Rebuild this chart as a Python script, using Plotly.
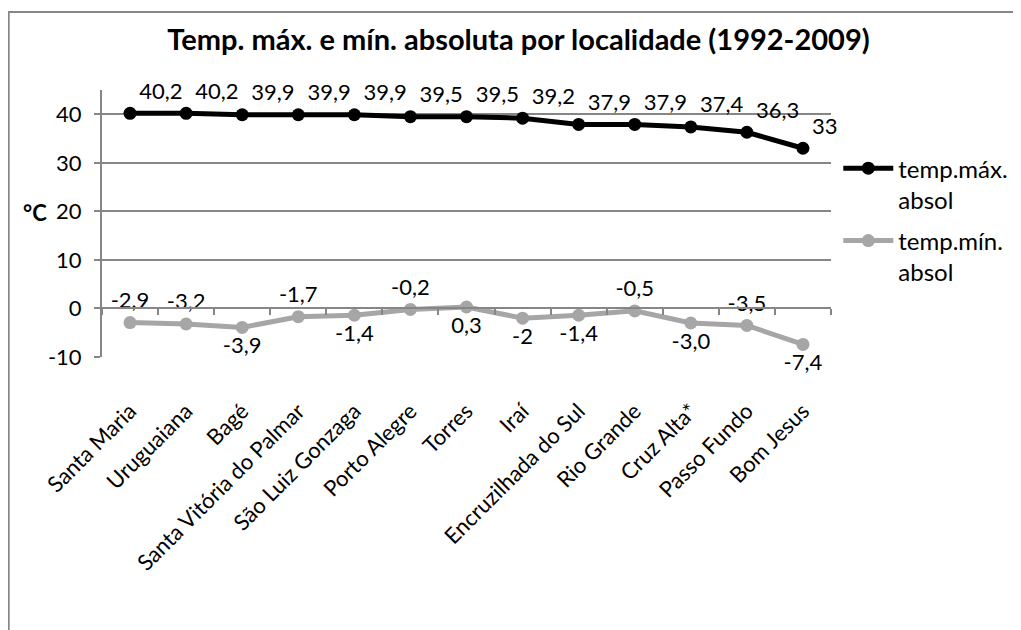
import plotly.graph_objects as go

localidades = ["Santa Maria", "Uruguaiana", "Bagé", "Santa Vitória do Palmar", "São Luiz Gonzaga",
               "Porto Alegre", "Torres", "Iraí", "Encruzilhada do Sul", "Rio Grande", "Cruz Alta*",
               "Passo Fundo", "Bom Jesus"]
temp_max = [40.2, 40.2, 39.9, 39.9, 39.9, 39.5, 39.5, 39.2, 37.9, 37.9, 37.4, 36.3, 33]
temp_min = [-2.9, -3.2, -3.9, -1.7, -1.4, -0.2, 0.3, -2, -1.4, -0.5, -3.0, -3.5, -7.4]
rotulos_max = ["40,2", "40,2", "39,9", "39,9", "39,9", "39,5", "39,5", "39,2", "37,9", "37,9", "37,4", "36,3", "33"]
rotulos_min = ["-2,9", "-3,2", "-3,9", "-1,7", "-1,4", "-0,2", "0,3", "-2", "-1,4", "-0,5", "-3,0", "-3,5", "-7,4"]
y_ticks = [-10, 0, 10, 20, 30, 40]
y_tick_labels = ["-10", "0", "10", "20", "30", "40"]

pos_min = ["top center", "top center", "bottom center", "top center", "bottom center", "top center",
           "bottom center", "bottom center", "bottom center", "top center", "bottom center",
           "top center", "bottom center"]

FONT = "Lato"
GRID = "#868686"
FS = 22

fig = go.Figure()
fig.add_trace(go.Scatter(
    x=localidades, y=temp_max, name="temp.máx.<br>absol", mode="lines+markers+text",
    legendgroup="max",
    line=dict(color="black", width=5), marker=dict(size=13, color="black"),
    text=rotulos_max, textposition="top right", textfont=dict(size=FS, color="black", family=FONT),
    cliponaxis=False))
fig.add_trace(go.Scatter(
    x=localidades, y=temp_min, name="temp.mín.<br>absol", mode="lines+markers+text",
    legendgroup="min",
    line=dict(color="#a6a6a6", width=5), marker=dict(size=13, color="#a6a6a6"),
    text=rotulos_min, textposition=pos_min, textfont=dict(size=FS, color="black", family=FONT),
    cliponaxis=False))
# eixo auxiliar so para desenhar a linha do zero com as marcas entre categorias
fig.add_trace(go.Scatter(x=localidades, y=temp_min, xaxis="x2", mode="none",
                         showlegend=False, hoverinfo="skip"))

fig.update_layout(
    width=1021, height=630,
    paper_bgcolor="white", plot_bgcolor="white",
    margin=dict(l=94, r=198, t=82, b=281),
    font=dict(family=FONT, size=FS, color="black"),
    title=dict(text="<b>Temp. máx. e mín. absoluta por localidade (1992-2009)</b>",
               x=0.5, xref="container", xanchor="center", y=0.949, yanchor="middle",
               font=dict(size=29, family=FONT, color="black")),
    xaxis=dict(type="category", tickangle=-45, showgrid=False, showline=False, ticks="",
               ticklabelstandoff=36, tickfont=dict(size=FS, family=FONT), range=[-0.5, 12.5]),
    xaxis2=dict(type="category", overlaying="x", anchor="free", position=10 / 55, range=[-0.5, 12.5],
                tickson="boundaries", ticks="outside", ticklen=6, tickcolor=GRID, tickwidth=2,
                showline=True, linecolor=GRID, linewidth=2, showticklabels=False, showgrid=False),
    yaxis=dict(range=[-10, 45], tickvals=y_ticks, ticktext=y_tick_labels, showgrid=True,
               gridcolor=GRID, gridwidth=1.5, zeroline=False, showline=True, linecolor=GRID,
               linewidth=2, ticks="outside", ticklen=6, tickcolor=GRID, tickwidth=2,
               ticklabelstandoff=8, tickfont=dict(size=FS, family=FONT)),
    legend=dict(x=1.01, y=0.79, xanchor="left", yanchor="top", font=dict(size=24, family=FONT),
                traceorder="grouped", tracegroupgap=7, valign="top", itemwidth=50,
                bgcolor="rgba(0,0,0,0)"),
    showlegend=True,
)

fig.add_annotation(text="<b>°C</b>", xref="paper", yref="paper", x=-0.092, y=0.543,
                   xanchor="center", yanchor="middle", showarrow=False,
                   font=dict(size=FS, family=FONT))
fig.add_shape(type="rect", xref="paper", yref="paper", x0=-0.128, y0=-1.5, x1=1.5, y1=1.292,
              line=dict(color=GRID, width=2), fillcolor="rgba(0,0,0,0)", layer="below")

fig.write_html("out.html")
